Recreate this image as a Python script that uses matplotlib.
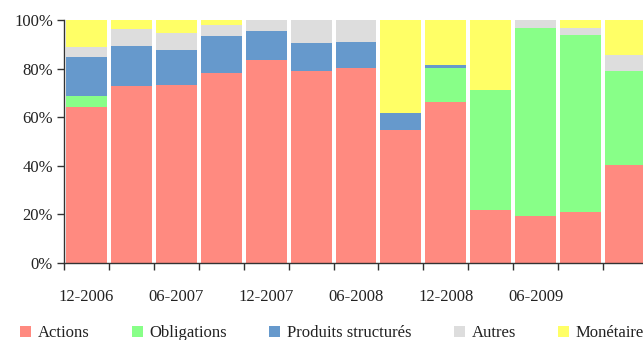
import numpy as np
import matplotlib.pyplot as plt
from matplotlib.ticker import FuncFormatter

# dates (quarterly)
periods = ["12-2006", "03-2007", "06-2007", "09-2007", "12-2007", "03-2008", "06-2008",
           "09-2008", "12-2008", "03-2009", "06-2009", "09-2009", "12-2009"]
# labels visible on the axis (last one falls outside the picture)
shown = [0, 2, 4, 6, 8, 10]

actions      = [64.0, 72.8, 73.2, 78.2, 83.5, 79.0, 80.2, 54.7, 66.2, 21.7, 19.2, 20.9, 40.2]
obligations  = [4.8, 0.0, 0.0, 0.0, 0.0, 0.0, 0.0, 0.0, 14.0, 49.5, 77.5, 72.9, 38.8]
produits     = [16.0, 16.5, 14.4, 15.2, 12.0, 11.5, 10.7, 7.0, 1.3, 0.0, 0.0, 0.0, 0.0]
autres       = [4.1, 7.0, 7.0, 4.5, 4.5, 9.5, 9.1, 0.0, 0.0, 0.0, 3.3, 3.0, 6.6]
monetaire    = [11.1, 3.7, 5.4, 2.1, 0.0, 0.0, 0.0, 38.3, 18.5, 28.8, 0.0, 3.2, 14.4]

series = [("Actions", actions, "#ff8a80"),
          ("Obligations", obligations, "#88ff88"),
          ("Produits structurés", produits, "#6699cc"),
          ("Autres", autres, "#dddddd"),
          ("Monétaire", monetaire, "#ffff66")]

plt.rcParams["font.family"] = ["Liberation Serif", "DejaVu Serif"]

W, H = 643, 340
fig = plt.figure(figsize=(W / 100, H / 100), dpi=100)
ax = fig.add_axes([64 / W, (H - 263) / H, (648 - 64) / W, (263 - 20) / H])

x = np.arange(len(periods))
bottom = np.zeros(len(periods))
for name, vals, col in series:
    ax.bar(x, vals, bottom=bottom, width=0.91, color=col, label=name, linewidth=0)
    bottom += np.array(vals)

ax.set_xlim(-0.5, len(periods) - 0.5)
ax.set_ylim(0, 100)
ax.set_yticks(range(0, 101, 20))
ax.yaxis.set_major_formatter(FuncFormatter(lambda v, p: f"{int(v)}%"))

ax.set_xticks(np.arange(-0.5, len(periods) - 0.4, 1))
ax.set_xticklabels([])
ax.set_xticks(shown, minor=True)
ax.set_xticklabels([periods[i] for i in shown], minor=True)
ax.tick_params(axis="x", which="minor", length=0, pad=19, labelsize=12, colors="#222222")
ax.tick_params(axis="x", which="major", length=5, width=1, color="#333333")
ax.tick_params(axis="y", length=5, width=1, color="#333333", labelsize=12, labelcolor="#222222", pad=3)

for s in ["top", "right"]:
    ax.spines[s].set_visible(False)
for s in ["left", "bottom"]:
    ax.spines[s].set_color("#333333")
    ax.spines[s].set_linewidth(1)

fig.legend(loc="center left", bbox_to_anchor=(20 / W, 7 / H), ncol=5, frameon=False,
           fontsize=12, handlelength=0.65, handleheight=0.65, handletextpad=0.4,
           columnspacing=2.55, borderpad=0, borderaxespad=0, labelcolor="#222222")

fig.savefig("out.png", dpi=100)
